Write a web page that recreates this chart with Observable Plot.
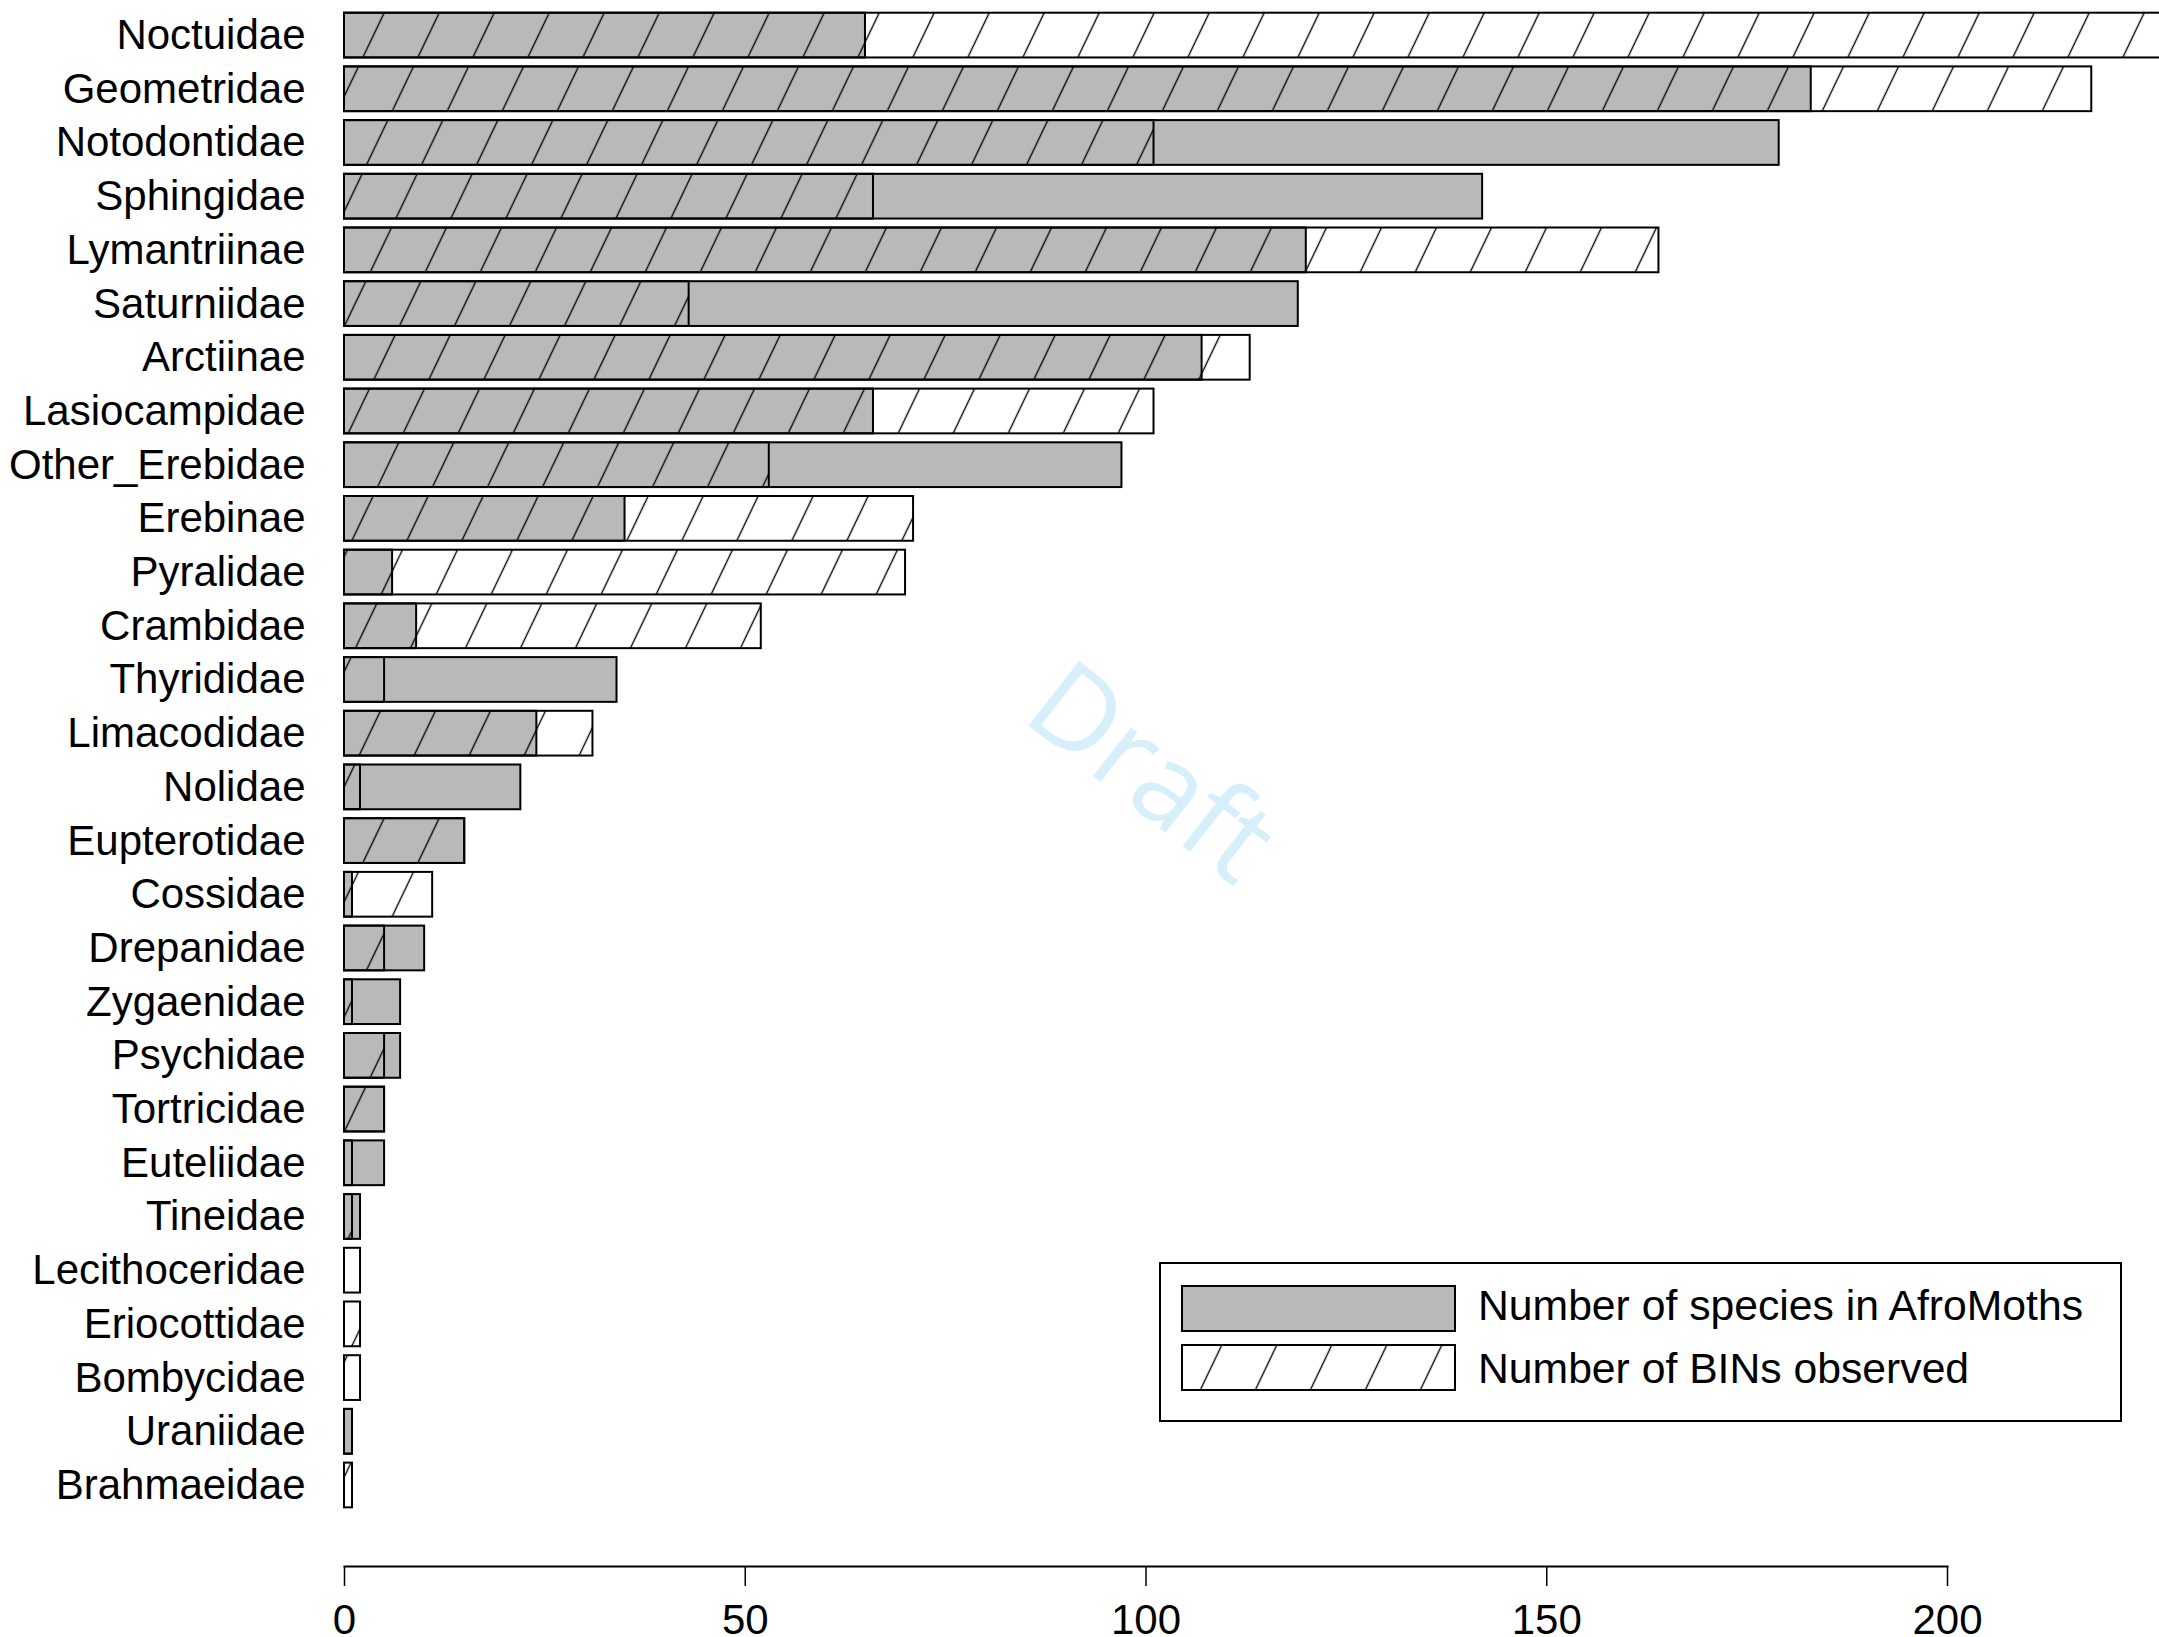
<!DOCTYPE html>
<html>
<head>
<meta charset="utf-8">
<script src="https://cdn.jsdelivr.net/npm/d3@7"></script>
<script src="https://cdn.jsdelivr.net/npm/@observablehq/plot@0.6"></script>
<style>
html, body { margin: 0; padding: 0; background: #fff; }
#wrap { position: relative; width: 2159px; height: 1637px; overflow: hidden; font-family: "Liberation Sans", Arial, Helvetica, sans-serif; }
#legend { position: absolute; left: 1159px; top: 1262px; }
#draft { position: absolute; left: 1155px; top: 768px; transform: translate(-50%, -50%) rotate(38deg); font-family: "Open Sans", sans-serif; font-size: 115px; color: #d6effa; white-space: nowrap; line-height: 1; pointer-events: none; }
</style>
</head>
<body>
<div id="wrap"></div>
<script>
const families = ["Noctuidae","Geometridae","Notodontidae","Sphingidae","Lymantriinae","Saturniidae","Arctiinae","Lasiocampidae","Other_Erebidae","Erebinae","Pyralidae","Crambidae","Thyrididae","Limacodidae","Nolidae","Eupterotidae","Cossidae","Drepanidae","Zygaenidae","Psychidae","Tortricidae","Euteliidae","Tineidae","Lecithoceridae","Eriocottidae","Bombycidae","Uraniidae","Brahmaeidae"];
const species = [65,183,179,142,120,119,107,66,97,35,6,9,34,24,22,15,1,10,7,7,5,5,2,0,0,0,1,0];
const bins =    [250,218,101,66,164,43,113,101,53,71,70,52,5,31,2,15,11,5,1,5,5,1,1,2,2,2,1,1];
const xTicks = [0, 50, 100, 150, 200];
const legendLabels = ["Number of species in AfroMoths", "Number of BINs observed"];
const watermark = "Draft";

const FONT = '"Liberation Sans", Arial, Helvetica, sans-serif';
const GRAY = "#b9b9b9";

const rows = families.map((f, i) => ({family: f, species: species[i], bins: bins[i]}));

const chart = Plot.plot({
  width: 2159,
  height: 1637,
  marginLeft: 344,
  marginRight: 212,
  marginTop: 0,
  marginBottom: 71,
  style: {fontFamily: FONT, fontSize: "42px", color: "black", background: "white", overflow: "hidden"},
  x: {domain: [0, 200]},
  y: {domain: families, range: [3.75, 1516.3], padding: 1 / 6, round: false},
  marks: [
    Plot.barX(rows, {x: "species", y: "family", fill: GRAY, stroke: "black", strokeWidth: 2}),
    Plot.barX(rows, {x: "bins", y: "family", fill: "url(#hatch)", stroke: "black", strokeWidth: 2}),
    Plot.frame({anchor: "bottom", stroke: "black", strokeWidth: 2}),
    Plot.axisX({ticks: xTicks, tickSize: 20, tickPadding: 18, strokeWidth: 1.5, label: null, fontSize: 42, tickFormat: d => String(d)}),
    Plot.axisY({tickSize: 0, tickPadding: 39, label: null, fontSize: 42})
  ]
});

d3.select(chart).insert("defs", ":first-child").html(
  '<pattern id="hatch" patternUnits="userSpaceOnUse" x="-22.2" y="0" width="55" height="20" patternTransform="skewX(-25.55)">' +
  '<line x1="27.5" y1="-2" x2="27.5" y2="22" stroke="black" stroke-width="1.5"/></pattern>'
);

const wrap = document.getElementById("wrap");
wrap.appendChild(chart);

// Legend
const lg = d3.select(wrap).append("svg").attr("id", "legend").attr("width", 963).attr("height", 160)
  .style("font-family", FONT);
lg.append("defs").html(
  '<pattern id="hatchL" patternUnits="userSpaceOnUse" x="20" y="0" width="55" height="20" patternTransform="skewX(-25.55)">' +
  '<line x1="27.5" y1="-2" x2="27.5" y2="22" stroke="black" stroke-width="1.5"/></pattern>'
);
lg.append("rect").attr("x", 1).attr("y", 1).attr("width", 961).attr("height", 158)
  .attr("fill", "white").attr("stroke", "black").attr("stroke-width", 2);
const swFill = [GRAY, "url(#hatchL)"];
const swY = [24, 83];
const txY = [58, 121];
legendLabels.forEach((t, i) => {
  lg.append("rect").attr("x", 23).attr("y", swY[i]).attr("width", 273).attr("height", 45)
    .attr("fill", swFill[i]).attr("stroke", "black").attr("stroke-width", 2);
  lg.append("text").attr("x", 319).attr("y", txY[i]).attr("font-size", 42.7).attr("fill", "black").text(t);
});

// Watermark
d3.select(wrap).append("div").attr("id", "draft").text(watermark);
</script>
</body>
</html>
